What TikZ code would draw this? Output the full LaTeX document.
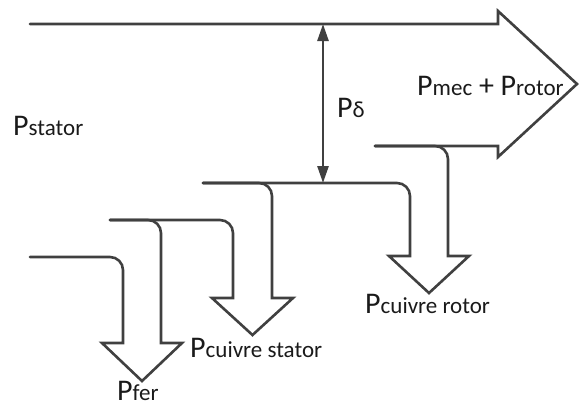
\documentclass[tikz,border=0pt]{standalone}
\usepackage{fontspec}
\setmainfont{Carlito}
\usetikzlibrary{arrows.meta}
\definecolor{lc}{HTML}{404040}
\definecolor{tc}{HTML}{1A1A1A}
\newcommand\PowLab[1]{{\fontsize{30}{30}\selectfont P}{\fontsize{23}{23}\selectfont #1}}
\newcommand\BigSz[1]{{\fontsize{30}{30}\selectfont #1}}
\begin{document}
\begin{tikzpicture}[x=1pt,y=-1pt,
  flow/.style={draw=lc,line width=2.6pt,line join=miter,line cap=round},
  lab/.style={anchor=base west,inner sep=0pt,text=tc},
  dbl/.style={draw=lc,line width=2.6pt,{Triangle[length=17pt,width=11pt]}-{Triangle[length=17pt,width=11pt]}}]
\useasboundingbox (0,0) rectangle (581,408);
% main flow with big arrow head
\draw[flow] (30,24) -- (498,24) -- (498,11) -- (577,84) -- (498,157) -- (498,146) -- (375,146);
% rotor copper loss arrow
\draw[flow] (375,146) [rounded corners=13pt] -| (448,200) [sharp corners] -- (448,256) -- (469,256) -- (429,293) -- (389,256) -- (410,256) -- (410,215) [rounded corners=13pt] |- (203,183);
% stator copper loss arrow
\draw[flow] (203,183) [rounded corners=13pt] -| (272,240) [sharp corners] -- (272,298) -- (293,298) -- (252.5,335) -- (212,298) -- (233,298) -- (233,250) [rounded corners=13pt] |- (110,220);
% iron loss arrow
\draw[flow] (110,220) [rounded corners=13pt] -| (161,280) [sharp corners] -- (161,343) -- (182,343) -- (142,381) -- (102,343) -- (123,343) -- (123,290) [rounded corners=13pt] |- (30,257);
% air gap power
\coordinate (dtop) at (323,24);
\coordinate (dbot) at (323,183);
\draw[dbl] (dtop) -- (dbot);
% labels
\node[lab] (pstator) at (13,135) {\PowLab{stator}};
\node[lab] (pdelta) at (337,117) {\PowLab{δ}};
\node[lab] (pmec) at (417,95) {\PowLab{mec}\BigSz{ + }\PowLab{rotor}};
\node[lab] (pcr) at (365,313) {\PowLab{cuivre rotor}};
\node[lab] (pcs) at (190,357) {\PowLab{cuivre stator}};
\node[lab] (pfer) at (117,400) {\PowLab{fer}};
\end{tikzpicture}
\end{document}
